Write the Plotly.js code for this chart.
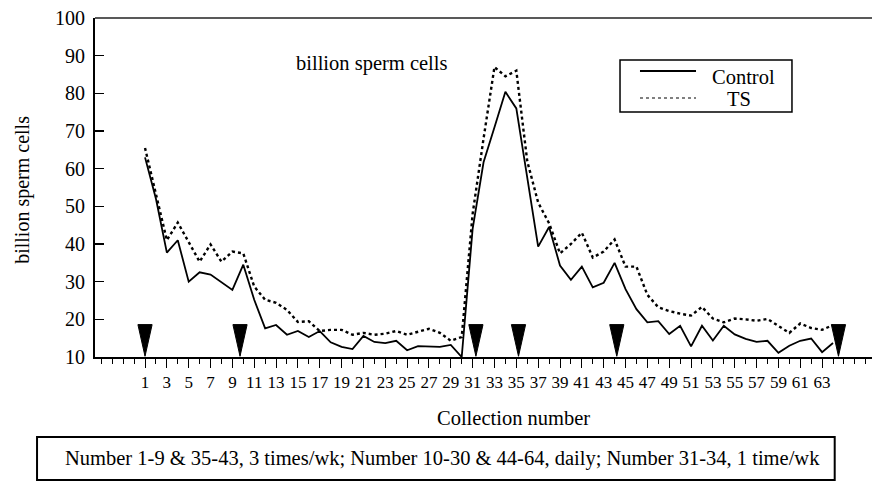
<!DOCTYPE html>
<html>
<head>
<meta charset="utf-8">
<script src="https://cdn.plot.ly/plotly-3.0.1.min.js"></script>
<style>html,body{margin:0;padding:0;background:#fff;}#chart{width:875px;height:493px;}</style>
</head>
<body>
<div id="chart"></div>
<script>
const collection = [1,2,3,4,5,6,7,8,9,10,11,12,13,14,15,16,17,18,19,20,21,22,23,24,25,26,27,28,29,30,31,32,33,34,35,36,37,38,39,40,41,42,43,44,45,46,47,48,49,50,51,52,53,54,55,56,57,58,59,60,61,62,63,64];
const control = [63,52,37.7,41,30,32.5,31.9,29.8,27.8,34.5,25.2,17.6,18.5,15.9,16.9,15.3,16.9,13.9,12.7,12.1,15.6,14,13.7,14.3,11.8,12.9,12.8,12.7,13.2,10,44,61.7,71,80.4,76,58,39.3,44.5,34.3,30.5,34,28.5,29.7,35,28,22.7,19.2,19.5,16.1,18.3,12.8,18.3,14.4,18.3,16,14.8,14,14.3,11.1,13,14.3,14.9,11.3,13.7];
const ts = [65.5,53,41,45.7,40.5,35.3,39.9,35.3,38,37.5,28.7,25.2,24.4,22.5,19.3,19.5,16.9,17.2,17.2,15.9,16.4,15.9,16.2,16.9,15.9,16.7,17.5,16.4,14.3,15.3,48,68,87,84.5,86,62,51,45.5,37.5,40,43,36.4,38,41.2,34,34,26.5,23.2,22.2,21.5,21,23.3,20.2,19.2,20.2,20,19.6,20.1,18.3,16.4,18.9,17.7,17.2,18.5];
const xTickVals = [1,3,5,7,9,11,13,15,17,19,21,23,25,27,29,31,33,35,37,39,41,43,45,47,49,51,53,55,57,59,61,63];
const yTickVals = [10,20,30,40,50,60,70,80,90,100];
const arrowAt = [1,9.7,31.3,35.2,44.2,64.5];
const seriesNames = ["Control","TS"];
const noteText = "Number 1-9 & 35-43, 3 times/wk; Number 10-30 & 44-64, daily; Number 31-34, 1 time/wk";

const FONT = "Liberation Serif";

const traces = [
  {x: collection, y: control, name: seriesNames[0], mode: "lines", line: {color: "#000", width: 1.8}, showlegend: false},
  {x: collection, y: ts, name: seriesNames[1], mode: "lines", line: {color: "#000", width: 2.4, dash: "dot"}, showlegend: false}
];

const shapes = [];
arrowAt.forEach(a => {
  shapes.push({type: "path", xref: "x", yref: "y",
    path: `M ${a-0.65},18.6 L ${a+0.65},18.6 L ${a},10.2 Z`,
    fillcolor: "#000", line: {color: "#000", width: 1}});
});
shapes.push({type: "line", xref: "paper", yref: "paper", x0: 0, x1: 1, y0: 1, y1: 1, line: {color: "#222", width: 1.5}});
shapes.push({type: "rect", xref: "paper", yref: "paper", x0: 0.6757, x1: 0.897, y0: 0.7227, y1: 0.876, line: {color: "#000", width: 1.5}, fillcolor: "rgba(0,0,0,0)"});
shapes.push({type: "line", xref: "paper", yref: "paper", x0: 0.7014, x1: 0.7735, y0: 0.8437, y1: 0.8437, line: {color: "#000", width: 1.8}});
shapes.push({type: "line", xref: "paper", yref: "paper", x0: 0.7014, x1: 0.7735, y0: 0.764, y1: 0.764, line: {color: "#000", width: 1.2, dash: "dot"}});
shapes.push({type: "rect", xref: "paper", yref: "paper", x0: -0.0746, x1: 0.952, y0: -0.363, y1: -0.236, line: {color: "#000", width: 2}, fillcolor: "rgba(0,0,0,0)"});

const txt = (x, y, text, size, extra) => Object.assign({xref: "paper", yref: "paper", x: x, y: y, text: text, showarrow: false,
  xanchor: "center", yanchor: "middle", font: {family: FONT, size: size, color: "#000"}}, extra || {});

const annotations = [
  txt(0.356, 0.867, "billion sperm cells", 20.5),
  txt(0.835, 0.826, seriesNames[0], 20.5),
  txt(0.829, 0.762, seriesNames[1], 20.5),
  txt(0.539, -0.18, "Collection number", 20.5),
  txt(-0.0927, 0.493, "billion sperm cells", 20, {textangle: -90}),
  txt(0.4466, -0.298, noteText, 20.5)
];

const layout = {
  width: 875, height: 493,
  margin: {l: 95, r: 3, t: 18, b: 136},
  paper_bgcolor: "#fff", plot_bgcolor: "#fff",
  showlegend: false,
  font: {family: FONT, color: "#000"},
  xaxis: {
    range: [-3.58, 67.57], tickmode: "array", tickvals: xTickVals,
    ticks: "outside", ticklen: 9, tickwidth: 1, tickcolor: "#000",
    minor: {dtick: 1, tick0: 0, ticks: "outside", ticklen: 5, tickcolor: "#000", tickwidth: 1},
    showline: true, linecolor: "#000", linewidth: 2, showgrid: false, zeroline: false,
    tickfont: {family: FONT, size: 17, color: "#000"}
  },
  yaxis: {
    range: [10, 100], tickmode: "array", tickvals: yTickVals,
    ticks: "inside", ticklen: 9, tickwidth: 1.5, tickcolor: "#000",
    showline: true, linecolor: "#000", linewidth: 2, showgrid: false, zeroline: false,
    ticklabelstandoff: 4,
    tickfont: {family: FONT, size: 20, color: "#000"}
  },
  shapes: shapes,
  annotations: annotations
};

Plotly.newPlot("chart", traces, layout, {displayModeBar: false, staticPlot: true});
</script>
</body>
</html>
